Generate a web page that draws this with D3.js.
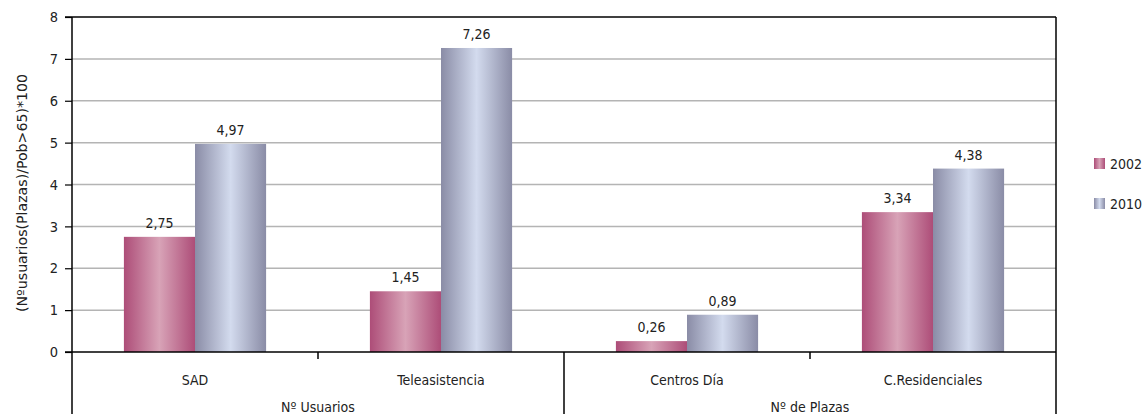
<!DOCTYPE html>
<html>
<head>
<meta charset="utf-8">
<script src="https://cdn.jsdelivr.net/npm/d3@7"></script>
<style>
  html, body { margin: 0; padding: 0; background: #fff; }
  svg { display: block; }
  text { font-family: "DejaVu Sans Condensed", "Liberation Sans", sans-serif; fill: #222; }
</style>
</head>
<body>
<svg id="chart" width="1148" height="414"></svg>
<script>
// Categories, groups and series
const categories = ["SAD", "Teleasistencia", "Centros Día", "C.Residenciales"];
const groups = [
  { label: "Nº Usuarios", members: ["SAD", "Teleasistencia"] },
  { label: "Nº de Plazas", members: ["Centros Día", "C.Residenciales"] }
];
const seriesNames = ["2002", "2010"];
const values2002 = [2.75, 1.45, 0.26, 3.34];
const values2010 = [4.97, 7.26, 0.89, 4.38];
const yTicks = [0, 1, 2, 3, 4, 5, 6, 7, 8];
const yLabel = "(Nºusuarios(Plazas)/Pob>65)*100";

const svg = d3.select("#chart");
const W = 1148, H = 414;
const m = { left: 72, right: 1056, top: 17, bottom: 352 };

const x = d3.scaleBand().domain(categories).range([m.left, m.right]).paddingInner(0).paddingOuter(0);
const xs = d3.scaleBand().domain(seriesNames).range([0, x.bandwidth()]).paddingInner(0).paddingOuter(0.73);
const y = d3.scaleLinear().domain([0, 8]).range([m.bottom, m.top]);

// Gradients per series (horizontal shading across each bar)
const defs = svg.append("defs");
const grads = {
  "2002": ["#ad4d78", "#d8a3b7", "#ad4d78"],
  "2010": ["#8a8ca6", "#d3dbee", "#8a8ca6"]
};
seriesNames.forEach(s => {
  const g = defs.append("linearGradient").attr("id", "g" + s)
    .attr("x1", "0%").attr("x2", "100%").attr("y1", "0%").attr("y2", "0%");
  g.append("stop").attr("offset", "0%").attr("stop-color", grads[s][0]);
  g.append("stop").attr("offset", "50%").attr("stop-color", grads[s][1]);
  g.append("stop").attr("offset", "100%").attr("stop-color", grads[s][2]);
});

// Gridlines
svg.append("g").selectAll("line").data(yTicks.filter(t => t > 0 && t < 8)).join("line")
  .attr("x1", m.left).attr("x2", m.right)
  .attr("y1", d => y(d)).attr("y2", d => y(d))
  .attr("stroke", "#b4b4b4").attr("stroke-width", 1.5);

// Y axis
const yAxis = svg.append("g").attr("transform", `translate(${m.left},0)`)
  .call(d3.axisLeft(y).tickValues(yTicks).tickSize(7).tickPadding(7).tickFormat(d3.format("d")));
yAxis.select(".domain").remove();
yAxis.selectAll(".tick line").attr("stroke", "#000").attr("stroke-width", 1.2);
yAxis.selectAll(".tick text").style("font-size", "14.5px").attr("fill", "#222");

// Bars
const data = categories.map((c, i) => ({ c, vals: [values2002[i], values2010[i]] }));
const barG = svg.append("g");
data.forEach(d => {
  d.vals.forEach((v, j) => {
    const s = seriesNames[j];
    const bx = x(d.c) + xs(s);
    barG.append("rect")
      .attr("x", bx).attr("width", xs.bandwidth())
      .attr("y", y(v)).attr("height", y(0) - y(v))
      .attr("fill", `url(#g${s})`);
    barG.append("text")
      .attr("x", bx + xs.bandwidth() / 2).attr("y", y(v) - 9)
      .attr("text-anchor", "middle").style("font-size", "14px")
      .text(d3.format(".2f")(v).replace(".", ","));
  });
});

// Plot frame: top, right, baseline, left axis extended down
const frame = svg.append("g").attr("stroke", "#000").attr("stroke-width", 1.5).attr("fill", "none");
frame.append("line").attr("x1", m.left - 7).attr("x2", m.right).attr("y1", y(8)).attr("y2", y(8));
frame.append("line").attr("x1", m.right).attr("x2", m.right).attr("y1", y(8)).attr("y2", H);
frame.append("line").attr("x1", m.left - 7).attr("x2", m.right).attr("y1", y(0)).attr("y2", y(0));
frame.append("line").attr("x1", m.left).attr("x2", m.left).attr("y1", y(8)).attr("y2", H);

// Category ticks inside groups and group separators
groups.forEach((g, gi) => {
  const x0 = x(g.members[0]);
  const x1 = x(g.members[g.members.length - 1]) + x.bandwidth();
  g.members.slice(1).forEach(mem => {
    frame.append("line").attr("x1", x(mem)).attr("x2", x(mem))
      .attr("y1", y(0)).attr("y2", y(0) + 7);
  });
  if (gi < groups.length - 1) {
    frame.append("line").attr("x1", x1).attr("x2", x1).attr("y1", y(0)).attr("y2", H);
  }
  svg.append("text").attr("x", (x0 + x1) / 2).attr("y", 412)
    .attr("text-anchor", "middle").style("font-size", "14px").text(g.label);
});

// Category labels
svg.append("g").selectAll("text").data(categories).join("text")
  .attr("x", d => x(d) + x.bandwidth() / 2).attr("y", 385)
  .attr("text-anchor", "middle").style("font-size", "14px").text(d => d);

// Y axis title
svg.append("text")
  .attr("transform", `translate(27,193) rotate(-90)`)
  .attr("text-anchor", "middle").style("font-size", "14px")
  .attr("textLength", 238).attr("lengthAdjust", "spacingAndGlyphs")
  .text(yLabel);

// Legend
const legend = svg.append("g");
seriesNames.forEach((s, i) => {
  const ly = 164 + i * 40;
  legend.append("rect").attr("x", 1094).attr("y", ly - 6).attr("width", 11).attr("height", 11)
    .attr("fill", `url(#g${s})`);
  legend.append("text").attr("x", 1110).attr("y", ly + 5).style("font-size", "14px").text(s);
});
</script>
</body>
</html>
